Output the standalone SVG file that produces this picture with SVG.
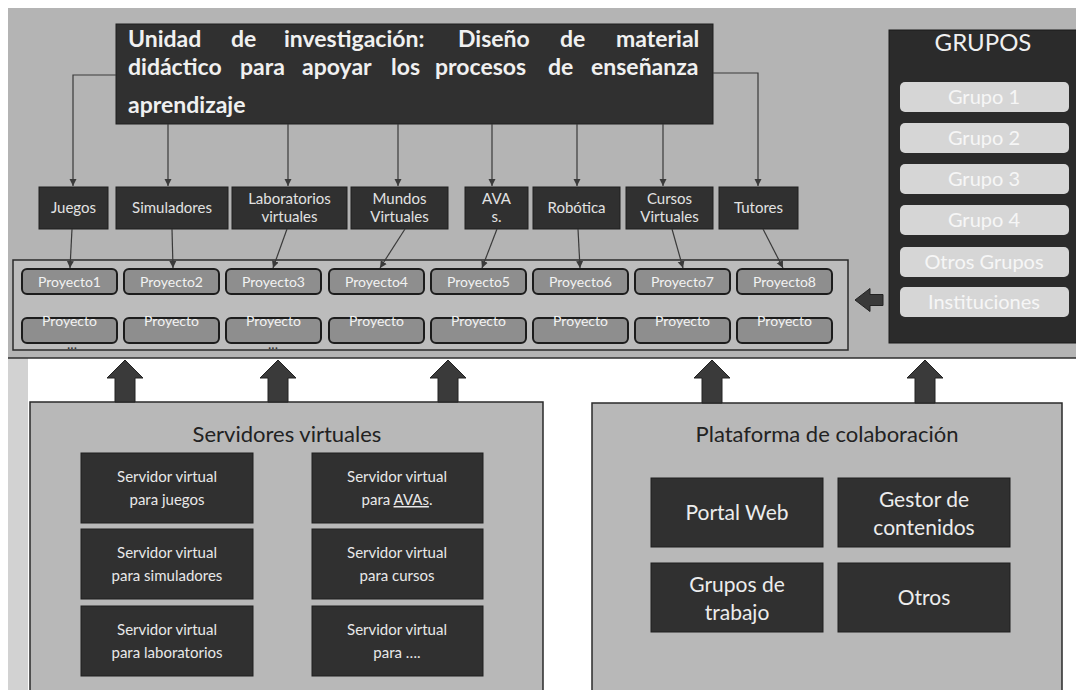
<svg xmlns="http://www.w3.org/2000/svg" width="1076" height="690" viewBox="0 0 1076 690">
<defs>
<marker id="ah" markerUnits="userSpaceOnUse" markerWidth="8" markerHeight="8" refX="7" refY="4" orient="auto">
<path d="M0,0.5 L7,4 L0,7.5 z" fill="#3a3a3a"/>
</marker>
<style>
text{font-family:Lato,"Open Sans","DejaVu Sans",sans-serif}
.dark{fill:#303030;stroke:#1e1e1e;stroke-width:1}
.ttl{fill:#f0f0f0;font-size:23px;font-weight:bold}
.cat text{fill:#e2e2e2;font-size:15px;text-anchor:middle}
.proj rect{fill:#8e8e8e;stroke:#1c1c1c;stroke-width:2}
.proj text{fill:#f2f2f2;font-size:14px;text-anchor:middle}
.grp rect{fill:#d6d6d6}
.grp text{fill:#f6f6f6;font-size:20px;text-anchor:middle}
.srv text{fill:#e8e8e8;font-size:15px;text-anchor:middle}
.plt text{fill:#ececec;font-size:21px;text-anchor:middle}
.panel{fill:#b8b8b8;stroke:#2a2a2a;stroke-width:1.5}
.conn line,.conn polyline{stroke:#3a3a3a;stroke-width:1.2;fill:none;marker-end:url(#ah)}
.big{fill:#3a3a3a;stroke:#222;stroke-width:1}
.head{fill:#222;font-size:22px;text-anchor:middle}
</style>
</defs>
<rect width="1076" height="690" fill="#ffffff"/>
<rect x="8" y="8" width="1068" height="350" fill="#b4b4b4"/>
<rect x="8" y="358" width="20" height="332" fill="#d2d2d2"/>
<line x1="8" y1="358" x2="1076" y2="358" stroke="#2e2e2e" stroke-width="1.5"/>

<g id="titulo">
<rect x="116" y="24" width="597" height="100" class="dark"/>
<text class="ttl" y="47"><tspan x="128">Unidad</tspan><tspan x="231">de</tspan><tspan x="284">investigación:</tspan><tspan x="458">Diseño</tspan><tspan x="560">de</tspan><tspan x="616">material</tspan></text>
<text class="ttl" y="75"><tspan x="128">didáctico</tspan><tspan x="240">para</tspan><tspan x="302">apoyar</tspan><tspan x="391">los</tspan><tspan x="435">procesos</tspan><tspan x="548">de</tspan><tspan x="591">enseñanza</tspan></text>
<text class="ttl" x="128" y="113">aprendizaje</text>
</g>

<g id="proyectos-contenedor">
<rect x="13" y="260" width="835" height="90" fill="#bcbcbc" stroke="#2a2a2a" stroke-width="1.5"/>
</g>

<g id="cat-juegos" class="cat"><rect x="39" y="187" width="69" height="42" class="dark"/><text x="73.5" y="213">Juegos</text></g>
<g id="cat-simuladores" class="cat"><rect x="116" y="187" width="112" height="42" class="dark"/><text x="172" y="213">Simuladores</text></g>
<g id="cat-laboratorios" class="cat"><rect x="232" y="187" width="115" height="42" class="dark"/><text x="289.5" y="204">Laboratorios</text><text x="289.5" y="222">virtuales</text></g>
<g id="cat-mundos" class="cat"><rect x="351" y="187" width="97" height="42" class="dark"/><text x="399.5" y="204">Mundos</text><text x="399.5" y="222">Virtuales</text></g>
<g id="cat-avas" class="cat"><rect x="465" y="187" width="63" height="42" class="dark"/><text x="496.5" y="204">AVA</text><text x="496.5" y="222">s.</text></g>
<g id="cat-robotica" class="cat"><rect x="533" y="187" width="87" height="42" class="dark"/><text x="576.5" y="213">Robótica</text></g>
<g id="cat-cursos" class="cat"><rect x="626" y="187" width="87" height="42" class="dark"/><text x="669.5" y="204">Cursos</text><text x="669.5" y="222">Virtuales</text></g>
<g id="cat-tutores" class="cat"><rect x="719" y="187" width="79" height="42" class="dark"/><text x="758.5" y="213">Tutores</text></g>

<g id="proyectos-fila1" class="proj">
<rect x="22" y="269" width="95" height="25" rx="5"/><text x="69.5" y="287">Proyecto1</text>
<rect x="124" y="269" width="95" height="25" rx="5"/><text x="171.5" y="287">Proyecto2</text>
<rect x="226" y="269" width="95" height="25" rx="5"/><text x="273.5" y="287">Proyecto3</text>
<rect x="329" y="269" width="95" height="25" rx="5"/><text x="376.5" y="287">Proyecto4</text>
<rect x="431" y="269" width="95" height="25" rx="5"/><text x="478.5" y="287">Proyecto5</text>
<rect x="533" y="269" width="95" height="25" rx="5"/><text x="580.5" y="287">Proyecto6</text>
<rect x="635" y="269" width="95" height="25" rx="5"/><text x="682.5" y="287">Proyecto7</text>
<rect x="737" y="269" width="95" height="25" rx="5"/><text x="784.5" y="287">Proyecto8</text>
</g>
<g id="proyectos-fila2" class="proj">
<rect x="22" y="318" width="95" height="25" rx="5"/><text x="69.5" y="326">Proyecto</text>
<rect x="124" y="318" width="95" height="25" rx="5"/><text x="171.5" y="326">Proyecto</text>
<rect x="226" y="318" width="95" height="25" rx="5"/><text x="273.5" y="326">Proyecto</text>
<rect x="329" y="318" width="95" height="25" rx="5"/><text x="376.5" y="326">Proyecto</text>
<rect x="431" y="318" width="95" height="25" rx="5"/><text x="478.5" y="326">Proyecto</text>
<rect x="533" y="318" width="95" height="25" rx="5"/><text x="580.5" y="326">Proyecto</text>
<rect x="635" y="318" width="95" height="25" rx="5"/><text x="682.5" y="326">Proyecto</text>
<rect x="737" y="318" width="95" height="25" rx="5"/><text x="784.5" y="326">Proyecto</text>
<text x="72" y="349" font-size="10" style="fill:#333">...</text>
<text x="273" y="349" font-size="10" style="fill:#333">...</text>
</g>

<g id="grupos">
<rect x="889" y="30" width="192" height="313" fill="#2b2b2b" stroke="#1a1a1a"/>
<text x="983" y="51" fill="#f0f0f0" font-size="24" text-anchor="middle">GRUPOS</text>
<g class="grp">
<rect x="900" y="82" width="169" height="30" rx="5"/><text x="984" y="104">Grupo 1</text>
<rect x="900" y="123" width="169" height="30" rx="5"/><text x="984" y="145">Grupo 2</text>
<rect x="900" y="164" width="169" height="30" rx="5"/><text x="984" y="186">Grupo 3</text>
<rect x="900" y="205" width="169" height="30" rx="5"/><text x="984" y="227">Grupo 4</text>
<rect x="900" y="247" width="169" height="30" rx="5"/><text x="984" y="269">Otros Grupos</text>
<rect x="900" y="287" width="169" height="30" rx="5"/><text x="984" y="309">Instituciones</text>
</g>
</g>

<g id="servidores">
<rect x="30" y="402" width="513" height="300" class="panel"/>
<text x="287" y="442" class="head">Servidores virtuales</text>
<g class="srv">
<rect x="81" y="453" width="172" height="70" class="dark"/><text x="167" y="482">Servidor virtual</text><text x="167" y="505">para juegos</text>
<rect x="81" y="529" width="172" height="70" class="dark"/><text x="167" y="558">Servidor virtual</text><text x="167" y="581">para simuladores</text>
<rect x="81" y="606" width="172" height="70" class="dark"/><text x="167" y="635">Servidor virtual</text><text x="167" y="658">para laboratorios</text>
<rect x="312" y="453" width="171" height="70" class="dark"/><text x="397" y="482">Servidor virtual</text><text x="397" y="505">para <tspan text-decoration="underline">AVAs</tspan>.</text>
<rect x="312" y="529" width="171" height="70" class="dark"/><text x="397" y="558">Servidor virtual</text><text x="397" y="581">para cursos</text>
<rect x="312" y="606" width="171" height="70" class="dark"/><text x="397" y="635">Servidor virtual</text><text x="397" y="658">para ….</text>
</g>
</g>

<g id="plataforma">
<rect x="592" y="403" width="470" height="300" class="panel"/>
<text x="827" y="442" class="head">Plataforma de colaboración</text>
<g class="plt">
<rect x="651" y="478" width="172" height="69" class="dark"/><text x="737" y="520">Portal Web</text>
<rect x="838" y="478" width="172" height="69" class="dark"/><text x="924" y="507">Gestor de</text><text x="924" y="535">contenidos</text>
<rect x="651" y="563" width="172" height="69" class="dark"/><text x="737" y="592">Grupos de</text><text x="737" y="620">trabajo</text>
<rect x="838" y="563" width="172" height="69" class="dark"/><text x="924" y="605">Otros</text>
</g>
</g>

<g id="conectores">
<g class="conn">
<polyline points="116,75 73,75 73,186"/>
<line x1="168" y1="124" x2="168" y2="186"/>
<line x1="288" y1="124" x2="288" y2="186"/>
<line x1="398" y1="124" x2="398" y2="186"/>
<line x1="492" y1="124" x2="492" y2="186"/>
<line x1="577" y1="124" x2="577" y2="186"/>
<line x1="663" y1="124" x2="663" y2="186"/>
<polyline points="713,73 758,73 758,186"/>
<line x1="72" y1="229" x2="70" y2="268"/>
<line x1="172" y1="229" x2="173" y2="268"/>
<line x1="287" y1="229" x2="273" y2="268"/>
<line x1="405" y1="229" x2="380" y2="268"/>
<line x1="497" y1="229" x2="482" y2="268"/>
<line x1="578" y1="229" x2="580" y2="268"/>
<line x1="672" y1="229" x2="683" y2="268"/>
<line x1="763" y1="229" x2="783" y2="268"/>
</g>
<polygon class="big" points="107,378 125,360 143,378 135,378 135,402 115,402 115,378"/>
<polygon class="big" points="260,378 278,360 296,378 288,378 288,402 268,402 268,378"/>
<polygon class="big" points="430,378 448,360 466,378 458,378 458,402 438,402 438,378"/>
<polygon class="big" points="694,378 712,360 730,378 722,378 722,403 702,403 702,378"/>
<polygon class="big" points="907,378 925,360 943,378 935,378 935,403 915,403 915,378"/>
<polygon class="big" points="855,300 870,288.5 870,294.5 883,294.5 883,305.5 870,305.5 870,311.5"/>
</g>
</svg>
